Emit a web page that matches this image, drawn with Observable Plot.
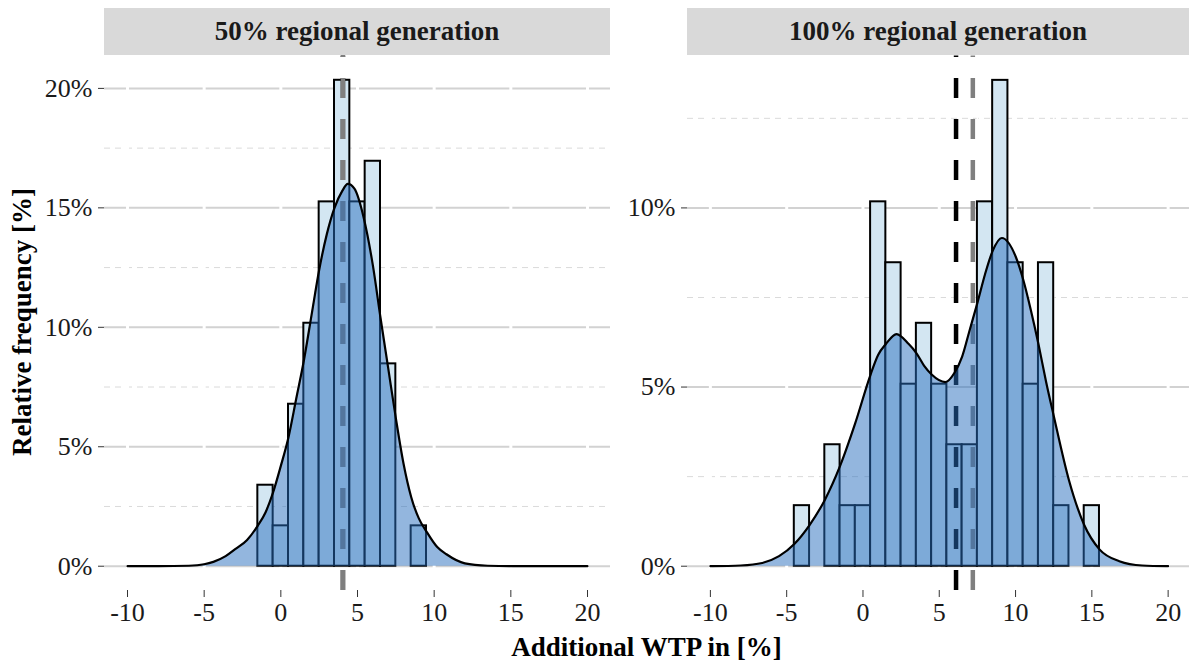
<!DOCTYPE html>
<html>
<head>
<meta charset="utf-8">
<script src="https://cdn.jsdelivr.net/npm/d3@7"></script>
<script src="https://cdn.jsdelivr.net/npm/@observablehq/plot@0.6"></script>
<style>
  body { margin: 0; background: white; }
  #root { position: relative; width: 1189px; height: 662px; overflow: hidden; background: white; font-family: "Liberation Serif", "Times New Roman", serif; }
  .strip { position: absolute; top: 8px; height: 47px; background: #d9d9d9; display: flex; align-items: center; justify-content: center; font-weight: bold; font-size: 27px; color: #1a1a1a; }
  .panel { position: absolute; top: 0; }
  .xtitle { position: absolute; left: 104px; width: 1085px; top: 630px; text-align: center; font-weight: bold; font-size: 27px; color: #000; line-height: 34px; }
  .ytitle { position: absolute; left: 22px; top: 322px; transform: translate(-50%, -50%) rotate(-90deg); white-space: nowrap; font-weight: bold; font-size: 27px; color: #000; }
</style>
</head>
<body>
<div id="root">
  <div class="strip" id="stripL" style="left:104px;width:506px;"></div>
  <div class="strip" id="stripR" style="left:687px;width:502px;"></div>
  <div class="xtitle" id="xtitle"></div>
  <div class="ytitle" id="ytitle"></div>
</div>
<script>
// ---------- data ----------
const panelTitles = ["50% regional generation", "100% regional generation"];
const xTitle = "Additional WTP in [%]";
const yTitle = "Relative frequency [%]";
const xTicks = [-10, -5, 0, 5, 10, 15, 20];
const xMinorTicks = [-7.5, -2.5, 2.5, 7.5, 12.5, 17.5];

// 50% regional generation: histogram (bin centre, relative frequency in %)
const binsLeft = [-1, 0, 1, 2, 3, 4, 5, 6, 7, 8, 9];
const freqLeft = [3.39, 1.69, 6.78, 10.17, 15.25, 20.34, 15.25, 16.95, 8.47, 0, 1.69];
// density curve (x, %)
const densXLeft = [-10, -8, -6, -5, -4.4, -3.6, -3, -2.2, -1.5, -1, -0.5, 0, 0.5, 1, 1.5, 2, 2.5, 3, 3.5, 4, 4.37, 4.8, 5.4, 6, 6.5, 7, 7.5, 8, 8.5, 9, 9.5, 10.2, 10.8, 12, 13.5, 15, 20];
const densYLeft = [0, 0, 0.02, 0.08, 0.18, 0.42, 0.7, 1.1, 1.7, 2.25, 3.1, 4.2, 5.4, 7.0, 8.6, 10.5, 12.4, 13.9, 15.0, 15.7, 16.0, 15.8, 14.6, 12.6, 10.4, 8.3, 6.2, 4.3, 2.9, 2.0, 1.45, 0.8, 0.5, 0.12, 0.02, 0, 0];
const meanLeft = 4.05;
const medianLeft = 4.05;
const yMajorLeft = [0, 5, 10, 15, 20];
const yMinorLeft = [2.5, 7.5, 12.5, 17.5];
const yDomainLeft = [-1.017, 21.356];

// 100% regional generation
const binsRight = [-4, -3, -2, -1, 0, 1, 2, 3, 4, 5, 6, 7, 8, 9, 10, 11, 12, 13, 14, 15];
const freqRight = [1.69, 0, 3.39, 1.69, 1.69, 10.17, 8.47, 5.08, 6.78, 5.08, 3.39, 3.39, 10.17, 13.56, 8.47, 5.08, 8.47, 1.69, 0, 1.69];
const densXRight = [-10, -8, -6.6, -5.5, -4.5, -3.5, -2.5, -1.5, -0.5, 0.5, 1, 1.5, 2.2, 3, 3.5, 4, 4.5, 5.4, 6, 6.5, 7, 7.5, 8, 8.5, 9.1, 10, 10.5, 11, 11.5, 12, 12.5, 13.5, 14.5, 15.5, 16.8, 18.3, 20];
const densYRight = [0, 0.02, 0.09, 0.28, 0.62, 1.15, 1.85, 2.8, 4.0, 5.35, 5.9, 6.2, 6.48, 6.2, 5.95, 5.6, 5.35, 5.14, 5.4, 5.85, 6.6, 7.35, 8.15, 8.8, 9.16, 8.65, 8.0, 7.15, 6.2, 5.15, 4.2, 2.4, 1.15, 0.47, 0.14, 0.02, 0];
const meanRight = 6.1;
const medianRight = 7.2;
const yMajorRight = [0, 5, 10];
const yMinorRight = [2.5, 7.5, 12.5];
const yDomainRight = [-0.678, 14.24];

// ---------- drawing ----------
function panel({bins, freq, dx, dy, mean, median, yMajor, yMinor, yDomain, xDomain, width, marginLeft, marginRight}) {
  const bars = bins.map((b, i) => ({x1: b - 0.5, x2: b + 0.5, y: freq[i]}));
  const dens = dx.map((x, i) => ({x, y: dy[i]}));
  const yLo = () => yDomain[0], yHi = () => yDomain[1];
  return Plot.plot({
    width, height: 662,
    marginLeft, marginRight, marginTop: 55.5, marginBottom: 72,
    x: {domain: xDomain, label: null},
    y: {domain: yDomain, label: null},
    style: {fontFamily: "'Liberation Serif', 'Times New Roman', serif", fontSize: "26px", color: "#1a1a1a", background: "transparent", overflow: "visible"},
    marks: [
      Plot.ruleY(yMinor, {stroke: "#dadada", strokeWidth: 1, strokeDasharray: "6,5"}),
      Plot.ruleX(xMinorTicks, {stroke: "white", strokeWidth: 1.5}),
      Plot.ruleY(yMajor, {stroke: "#d2d2d2", strokeWidth: 2}),
      Plot.ruleX(xTicks, {stroke: "white", strokeWidth: 3}),
      Plot.rect(bars, {x1: "x1", x2: "x2", y1: () => 0, y2: "y", fill: "#d3e6f2", stroke: "black", strokeWidth: 2}),
      Plot.ruleX([mean], {x: d => d, y1: yLo, y2: yHi, stroke: "black", strokeWidth: 4.5, strokeDasharray: "20,21"}),
      Plot.ruleX([median], {x: d => d, y1: yLo, y2: yHi, stroke: "#7f7f7f", strokeWidth: 4.5, strokeDasharray: "20,21"}),
      Plot.area(dens, {x1: "x", y1: () => 0, y2: "y", curve: "monotone-x", fill: "rgb(40,110,190)", fillOpacity: 0.5}),
      Plot.line(dens, {x: "x", y: "y", curve: "monotone-x", stroke: "black", strokeWidth: 2.2}),
      Plot.axisY(yMajor, {tickSize: 6, tickPadding: 6, tickFormat: d => d + "%", stroke: "#333", label: null}),
      Plot.axisX(xTicks, {tickSize: 7, tickPadding: 5, tickFormat: d => String(d), stroke: "#333", label: null})
    ]
  });
}

const root = document.getElementById("root");
document.getElementById("stripL").textContent = panelTitles[0];
document.getElementById("stripR").textContent = panelTitles[1];
document.getElementById("xtitle").textContent = xTitle;
document.getElementById("ytitle").textContent = yTitle;

const left = panel({bins: binsLeft, freq: freqLeft, dx: densXLeft, dy: densYLeft, mean: meanLeft, median: medianLeft,
  yMajor: yMajorLeft, yMinor: yMinorLeft, yDomain: yDomainLeft, xDomain: [-11.5, 21.5],
  width: 612, marginLeft: 104, marginRight: 2});
left.classList.add("panel");
left.style.left = "0px";
root.insertBefore(left, root.firstChild);

const right = panel({bins: binsRight, freq: freqRight, dx: densXRight, dy: densYRight, mean: meanRight, median: medianRight,
  yMajor: yMajorRight, yMinor: yMinorRight, yDomain: yDomainRight, xDomain: [-11.5, 21.4],
  width: 589, marginLeft: 87, marginRight: 0});
right.classList.add("panel");
right.style.left = "600px";
root.insertBefore(right, root.firstChild);
</script>
</body>
</html>
